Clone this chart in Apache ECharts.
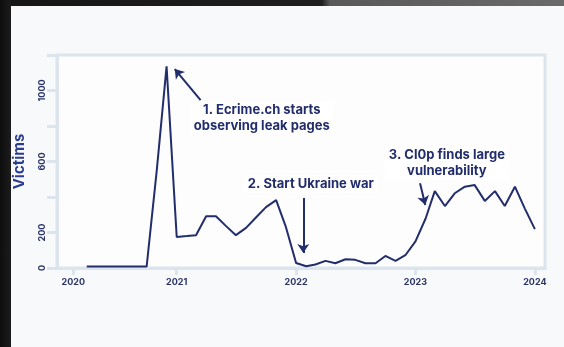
<!DOCTYPE html>
<html>
<head>
<meta charset="utf-8">
<script src="https://cdn.jsdelivr.net/npm/echarts@6/dist/echarts.min.js"></script>
<style>
  html, body { margin: 0; padding: 0; width: 564px; height: 347px; overflow: hidden; background: #f8f9fa; }
  #edgeTop { position: absolute; left: 0; top: 0; width: 564px; height: 6px;
    background: linear-gradient(to right, #161616 0, #1f1f1f 57%, #595959 58.5%, #6a6a6a 100%); }
  #edgeLeft { position: absolute; left: 0; top: 0; width: 11px; height: 347px;
    background: linear-gradient(to right, #0e0e0e, #1c1c1c); }
  #chart { position: absolute; left: 0; top: 0; width: 564px; height: 347px; }
</style>
</head>
<body>
<div id="edgeTop"></div>
<div id="edgeLeft"></div>
<div id="chart"></div>
<script>
// Monthly count of leak-site victims
const months = [
  '2020-04', '2020-05', '2020-06', '2020-07', '2020-08', '2020-09', '2020-10', '2020-11', '2020-12',
  '2021-01', '2021-02', '2021-03', '2021-04', '2021-05', '2021-06', '2021-07', '2021-08', '2021-09', '2021-10', '2021-11', '2021-12',
  '2022-01', '2022-02', '2022-03', '2022-04', '2022-05', '2022-06', '2022-07', '2022-08', '2022-09', '2022-10', '2022-11', '2022-12',
  '2023-01', '2023-02', '2023-03', '2023-04', '2023-05', '2023-06', '2023-07', '2023-08', '2023-09', '2023-10', '2023-11', '2023-12',
  '2024-01'
];
const victims = [
  8, 8, 8, 8, 8, 8, 8, 550, 1136,
  175, 180, 185, 292, 292, 236, 185, 226, 286, 343, 382, 230,
  28, 10, 20, 40, 27, 49, 46, 27, 27, 68, 40, 72,
  150, 279, 433, 349, 421, 458, 467, 378, 433, 349, 458, 336,
  219
];

// Year ticks on the date axis and the y values that carry a label
const yearTickDates = ['2020-02-20', '2021-01-01', '2022-01-01', '2023-01-01', '2024-01-01'];
const yearTickLabels = ['2020', '2021', '2022', '2023', '2024'];
const labelledVictimTicks = [0, 200, 600, 1000];

// Annotations: text block anchor and arrow (tail -> head), in data coordinates
const noteTexts = ['1. Ecrime.ch starts\nobserving leak pages', '2. Start Ukraine war', '3. Cl0p finds large\nvulnerability'];
const noteAnchors = [['2021-09-18', 845], ['2022-02-15', 473], ['2023-04-07', 592]];
const arrowTails = [['2021-03-15', 946], ['2022-01-23', 394], ['2023-01-15', 477]];
const arrowHeads = [['2020-12-26', 1121], ['2022-01-23', 85], ['2023-01-31', 355]];

const toTime = s => new Date((s.length === 7 ? s + '-01' : s) + 'T00:00:00').getTime();

const ink = '#222d6c';
const frame = '#dce5ee';
const tickText = '#2b3466';
const font = 'Inter, "Noto Sans", sans-serif';

const tickTimes = yearTickDates.map(toTime);

const chart = echarts.init(document.getElementById('chart'), null, { renderer: 'canvas' });

chart.setOption({
  animation: false,
  backgroundColor: 'transparent',
  grid: {
    left: 57, right: 19, top: 55, bottom: 79,
    show: true, backgroundColor: '#fdfdfe', borderColor: frame, borderWidth: 3
  },
  xAxis: {
    // dates as millisecond timestamps on a linear axis
    type: 'value',
    min: toTime('2020-01-01'),
    max: toTime('2024-02-01'),
    axisLine: { show: true, lineStyle: { color: frame, width: 3 } },
    axisTick: { show: true, length: 7, customValues: tickTimes, lineStyle: { color: frame, width: 3 } },
    axisLabel: {
      customValues: tickTimes,
      formatter: v => yearTickLabels[tickTimes.indexOf(v)] ?? '',
      color: tickText, fontFamily: font, fontWeight: 'bold', fontSize: 9, margin: 10
    },
    splitLine: { show: false }
  },
  yAxis: {
    type: 'value',
    min: 0, max: 1200, interval: 200,
    name: 'Victims',
    nameLocation: 'middle',
    nameRotate: 90,
    nameGap: 30,
    nameTextStyle: { color: '#2c3d8f', fontFamily: font, fontWeight: 'bold', fontSize: 15 },
    axisLine: { show: true, lineStyle: { color: frame, width: 3 } },
    axisTick: { show: true, length: 10, lineStyle: { color: frame, width: 3 } },
    axisLabel: {
      rotate: 90,
      formatter: v => labelledVictimTicks.includes(v) ? String(v) : '',
      color: tickText, fontFamily: font, fontWeight: 'bold', fontSize: 9, margin: 10
    },
    splitLine: { show: false }
  },
  series: [{
    type: 'line',
    data: months.map((m, i) => [toTime(m), victims[i]]),
    showSymbol: false,
    lineStyle: { color: ink, width: 2 },
    markLine: {
      silent: true,
      symbol: ['none', 'arrow'],
      symbolSize: 9,
      itemStyle: { color: ink },
      lineStyle: { color: ink, width: 2, type: 'solid' },
      label: { show: false },
      data: arrowTails.map((t, i) => [
        { coord: [toTime(t[0]), t[1]] },
        { coord: [toTime(arrowHeads[i][0]), arrowHeads[i][1]] }
      ])
    },
    markPoint: {
      silent: true,
      symbol: 'rect',
      symbolSize: 1,
      itemStyle: { color: 'rgba(0,0,0,0)' },
      label: {
        show: true, position: 'inside', align: 'center',
        color: ink, fontFamily: font, fontWeight: 'bold', fontSize: 13, lineHeight: 16,
        backgroundColor: '#ffffff', padding: [1, 4]
      },
      data: noteAnchors.map((a, i) => ({
        coord: [toTime(a[0]), a[1]],
        value: 0,
        label: { formatter: noteTexts[i] }
      }))
    }
  }]
});
</script>
</body>
</html>
